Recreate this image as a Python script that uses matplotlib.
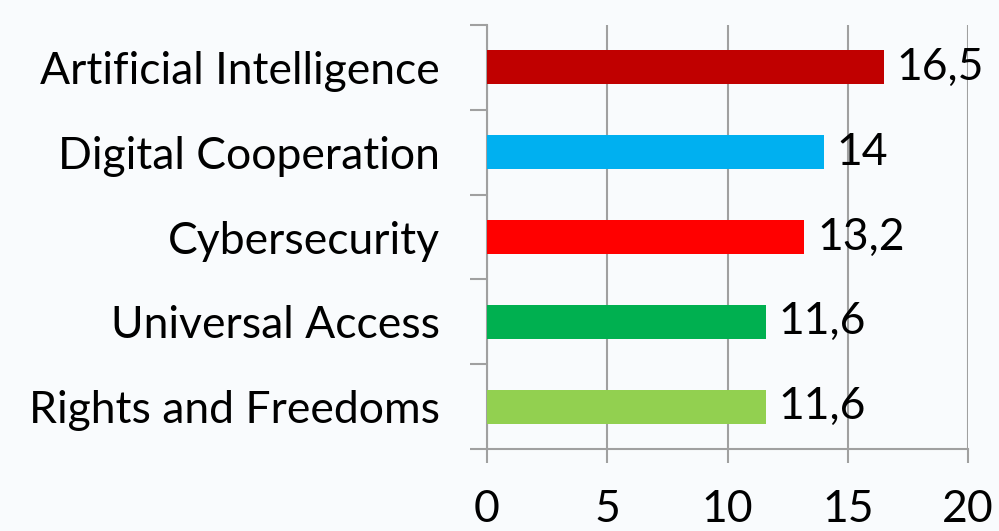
import numpy as np
import matplotlib.pyplot as plt
from matplotlib.ticker import FixedLocator

categories = ["Rights and Freedoms", "Universal Access", "Cybersecurity",
              "Digital Cooperation", "Artificial Intelligence"]
values = [11.6, 11.6, 13.2, 14, 16.5]
value_labels = ["11,6", "11,6", "13,2", "14", "16,5"]
colors = ["#92D050", "#00B050", "#FF0000", "#00B0F0", "#C00000"]
x_ticks = [0, 5, 10, 15, 20]

plt.rcParams['font.family'] = ['Lato', 'DejaVu Sans']
bg = "#F9FBFD"
grey = "#A0A0A0"
fs = 32

fig = plt.figure(figsize=(9.99, 5.31), dpi=100, facecolor=bg)
ax = fig.add_axes([487/999, 1 - 449/531, (968-487)/999, (449-25)/531])
ax.set_facecolor(bg)

y = np.arange(len(categories))
ax.barh(y, values, height=0.4, color=colors, zorder=3)
for yi, v, lab in zip(y, values, value_labels):
    ax.annotate(lab, (v, yi), xytext=(9, 0), textcoords="offset points",
                va="center", ha="left", fontsize=fs, color="black", zorder=4)

ax.set_xlim(0, 20)
ax.set_ylim(-0.5, len(categories) - 0.5)
ax.set_xticks(x_ticks)
ax.set_xticklabels([str(t) for t in x_ticks])
ax.set_yticks(y)
ax.set_yticklabels(categories)
ax.yaxis.set_minor_locator(FixedLocator(np.arange(-0.5, len(categories), 1)))

ax.grid(axis="x", color=grey, linewidth=1.5, zorder=0)
ax.set_axisbelow(True)
for s in ["top", "right"]:
    ax.spines[s].set_visible(False)
for s in ["left", "bottom"]:
    ax.spines[s].set_color(grey)
    ax.spines[s].set_linewidth(1.5)

ax.tick_params(axis="y", which="major", length=0, pad=34, labelsize=fs)
ax.tick_params(axis="y", which="minor", length=12, width=1.5, color=grey)
ax.tick_params(axis="x", which="major", length=10, width=1.5, color=grey,
               pad=19, labelsize=fs)

fig.savefig("out.png", dpi=100, facecolor=bg)
